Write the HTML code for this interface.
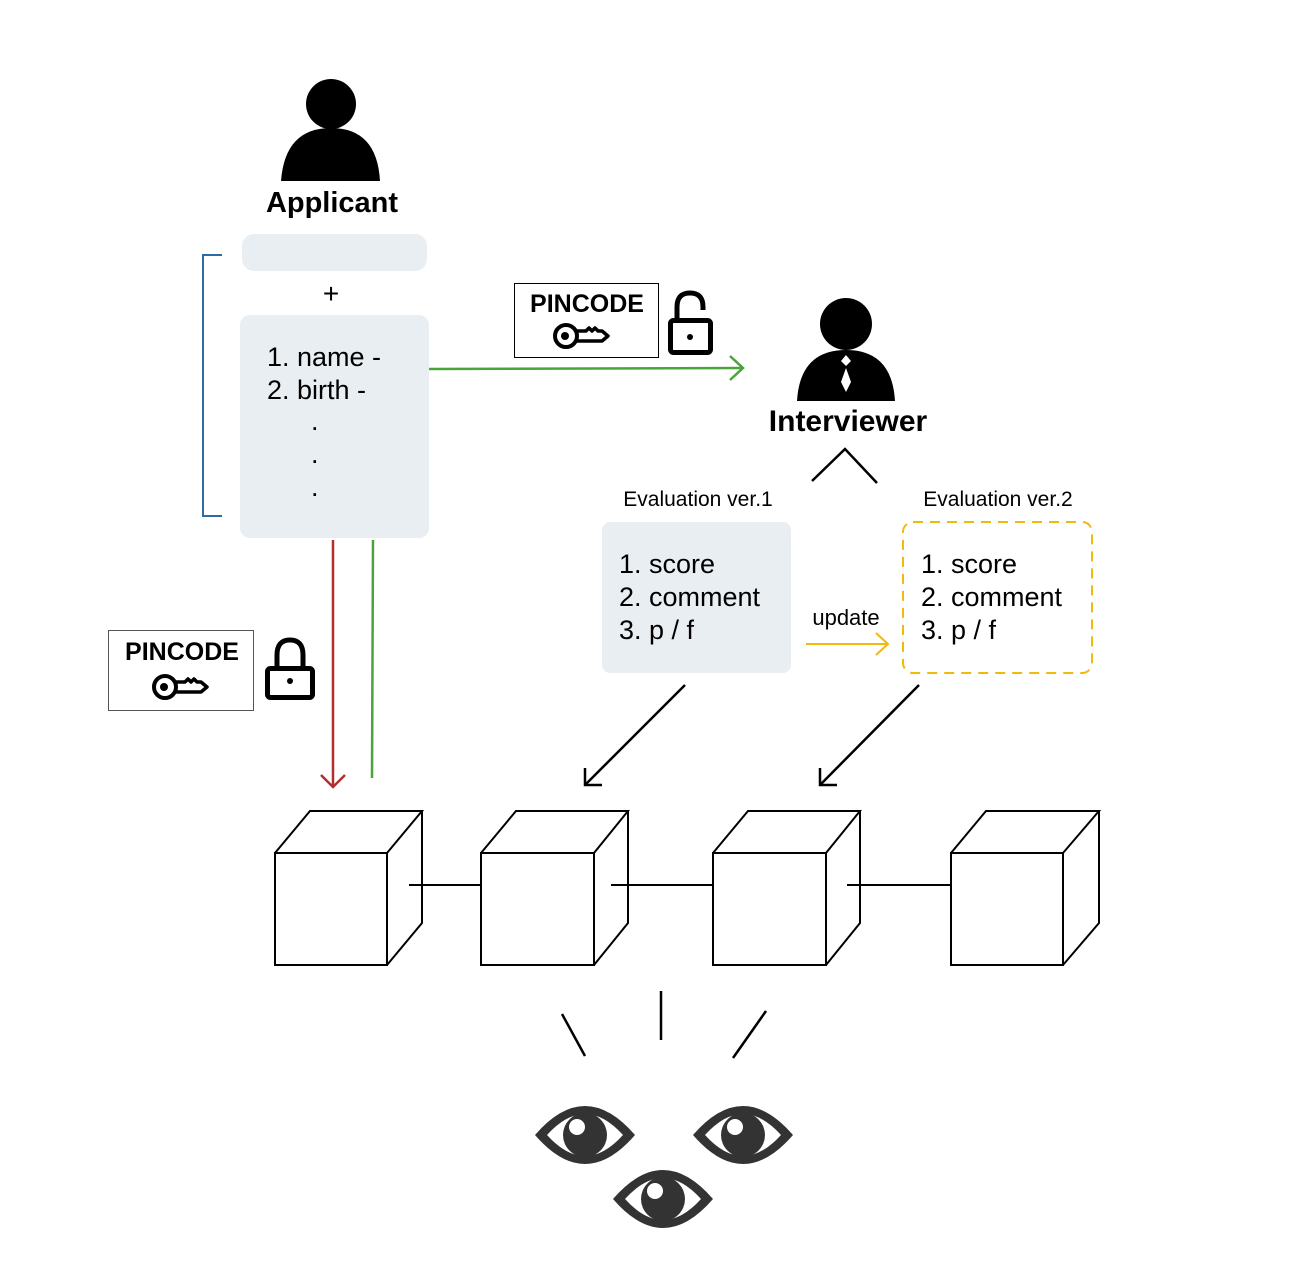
<!DOCTYPE html>
<html><head><style>body{margin:0;background:#fff}svg{display:block}text{font-family:"Liberation Sans",sans-serif}</style></head>
<body>
<svg width="1294" height="1287" viewBox="0 0 1294 1287" xmlns="http://www.w3.org/2000/svg">
<defs>
<g id="eye">
<path d="M-50,0 Q0,-58 50,0 Q0,58 -50,0Z" fill="#333"/>
<path d="M-38,0 Q0,-42 38,0 Q0,42 -38,0Z" fill="#fff"/>
<circle r="22" fill="#333"/>
<circle cx="-8" cy="-8" r="8" fill="#fff"/>
</g>
<g id="key">
<circle cx="0" cy="0" r="11" fill="none" stroke="#000" stroke-width="4"/>
<circle cx="-1" cy="0" r="4" fill="#000"/>
<path d="M11,-5 L20,-5 L23,-8 L26,-5 L29,-8 L32,-5 L36,-5 L42,0 L36,5 L11,5" fill="none" stroke="#000" stroke-width="3.5" stroke-linejoin="round"/>
</g>
</defs>
<circle cx="331" cy="104" r="25" fill="#000"/>
<path d="M281,181 Q285,128 331,128 Q377,128 380,181Z" fill="#000"/>
<text x="332" y="212" font-size="29" font-weight="bold" text-anchor="middle">Applicant</text>
<rect x="242" y="234" width="185" height="37" rx="12" fill="#e9eef2"/>
<text x="331" y="303" font-size="28" text-anchor="middle">+</text>
<rect x="240" y="315" width="189" height="223" rx="10" fill="#e9eef2"/>
<text x="267" y="366" font-size="27">1. name -</text>
<text x="267" y="399" font-size="27">2. birth  -</text>
<text x="311" y="430" font-size="27">.</text>
<text x="311" y="463" font-size="27">.</text>
<text x="311" y="496" font-size="27">.</text>
<path d="M222,255 H203 V516 H222" fill="none" stroke="#2e6aa6" stroke-width="2"/>
<line x1="429" y1="369" x2="743" y2="368" stroke="#4aa33b" stroke-width="2.5"/>
<path d="M730,356 L743,368 L730,380" fill="none" stroke="#4aa33b" stroke-width="2.5"/>
<rect x="514.5" y="283.5" width="144" height="74" fill="#fff" stroke="#000"/>
<text x="587" y="312" font-size="25" font-weight="bold" text-anchor="middle">PINCODE</text>
<use href="#key" x="566" y="336"/>
<path d="M677,320 V307 Q677,293 690,293 Q703,293 703,307 V310" fill="none" stroke="#000" stroke-width="5"/>
<rect x="670.5" y="320.5" width="40" height="32" rx="3" fill="none" stroke="#000" stroke-width="5"/>
<circle cx="690" cy="337" r="3" fill="#000"/>
<circle cx="846" cy="324" r="26" fill="#000"/>
<path d="M797,401 Q800,350 846,350 Q892,350 895,401Z" fill="#000"/>
<path d="M846,355 L851,361 L846,366 L841,361Z M846,368 L851,382 L846,392 L841,382Z" fill="#fff"/>
<text x="848" y="431" font-size="30" font-weight="bold" text-anchor="middle">Interviewer</text>
<path d="M812,481 L845,449 L877,483" fill="none" stroke="#000" stroke-width="2.5"/>
<text x="698" y="506" font-size="21" text-anchor="middle">Evaluation ver.1</text>
<text x="998" y="506" font-size="21" text-anchor="middle">Evaluation ver.2</text>
<rect x="602" y="522" width="189" height="151" rx="8" fill="#e9eef2"/>
<text x="619" y="573" font-size="27">1. score</text>
<text x="619" y="606" font-size="27">2. comment</text>
<text x="619" y="639" font-size="27">3. p / f</text>
<rect x="903" y="522" width="189" height="151" rx="10" fill="none" stroke="#f0b90b" stroke-width="2" stroke-dasharray="10,7"/>
<text x="921" y="573" font-size="27">1. score</text>
<text x="921" y="606" font-size="27">2. comment</text>
<text x="921" y="639" font-size="27">3. p / f</text>
<text x="846" y="625" font-size="22" text-anchor="middle">update</text>
<line x1="806" y1="644" x2="888" y2="644" stroke="#f0b90b" stroke-width="2"/>
<path d="M876,633 L888,644 L876,655" fill="none" stroke="#f0b90b" stroke-width="2"/>
<line x1="685" y1="685" x2="585" y2="785" stroke="#000" stroke-width="2.5"/>
<path d="M585,768 L585,785 L602,785" fill="none" stroke="#000" stroke-width="2.5"/>
<line x1="919" y1="685" x2="820" y2="785" stroke="#000" stroke-width="2.5"/>
<path d="M820,768 L820,785 L837,785" fill="none" stroke="#000" stroke-width="2.5"/>
<line x1="333" y1="540" x2="333" y2="787" stroke="#b03030" stroke-width="2.5"/>
<path d="M321,775 L333,787 L345,775" fill="none" stroke="#b03030" stroke-width="2.5"/>
<line x1="373" y1="540" x2="372" y2="778" stroke="#4aa33b" stroke-width="2.5"/>
<rect x="108.5" y="630.5" width="145" height="80" fill="#fff" stroke="#555"/>
<text x="182" y="660" font-size="25" font-weight="bold" text-anchor="middle">PINCODE</text>
<use href="#key" x="165" y="687"/>
<path d="M277,668 V655 Q277,640 290,640 Q303,640 303,655 V668" fill="none" stroke="#000" stroke-width="5"/>
<rect x="267.5" y="668.5" width="45" height="29" rx="3" fill="none" stroke="#000" stroke-width="5"/>
<circle cx="290" cy="681" r="3" fill="#000"/>
<g fill="none" stroke="#000" stroke-width="2">
<path d="M275,853 H387 V965 H275Z M275,853 L310,811 H422 L387,853 M422,811 V923 L387,965"/>
<path d="M481,853 H594 V965 H481Z M481,853 L516,811 H628 L594,853 M628,811 V923 L594,965"/>
<path d="M713,853 H826 V965 H713Z M713,853 L748,811 H860 L826,853 M860,811 V923 L826,965"/>
<path d="M951,853 H1063 V965 H951Z M951,853 L986,811 H1099 L1063,853 M1099,811 V923 L1063,965"/>
<path d="M409,885 H481 M611,885 H713 M847,885 H951"/>
</g>
<g stroke="#000" stroke-width="2.5">
<line x1="562" y1="1014" x2="585" y2="1056"/>
<line x1="661" y1="991" x2="661" y2="1040"/>
<line x1="766" y1="1011" x2="733" y2="1058"/>
</g>
<use href="#eye" x="585" y="1135"/>
<use href="#eye" x="743" y="1135"/>
<use href="#eye" x="663" y="1199"/>
</svg>
</body></html>
